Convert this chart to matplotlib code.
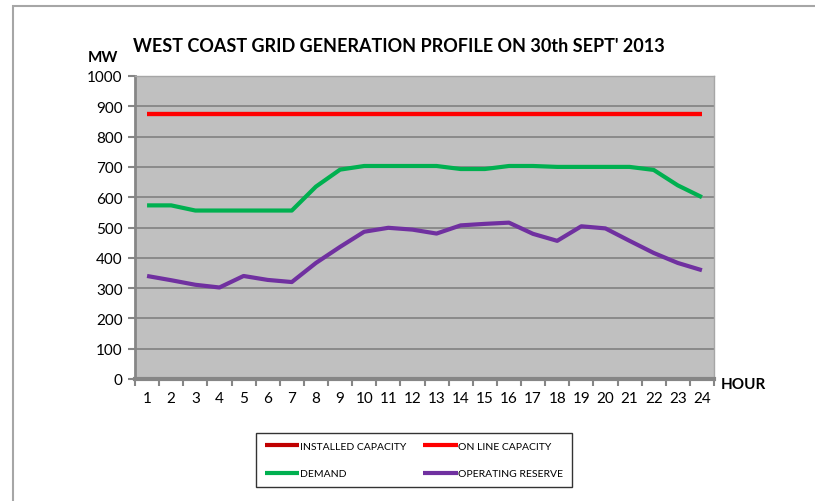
import matplotlib
matplotlib.use('Agg')
from matplotlib import pyplot as plt
from matplotlib.patches import Rectangle
import numpy as np

plt.rcParams['font.family'] = ['Lato', 'DejaVu Sans']

hours = list(range(1, 25))
installed = [875] * 24
online = [875] * 24
demand = [573, 573, 556, 556, 556, 556, 556, 635, 691, 703, 703, 703,
          703, 693, 693, 703, 703, 700, 700, 700, 700, 690, 639, 600]
reserve = [340, 326, 311, 302, 340, 327, 320, 383, 436, 486, 499, 493,
           480, 507, 512, 516, 479, 456, 504, 497, 456, 416, 383, 359]

fig = plt.figure(figsize=(8.15, 5.02), dpi=100)
ax = fig.add_axes([135/815, 1-380/502, (714-135)/815, (380-77)/502])
ax.set_facecolor('#C0C0C0')

lw = 3.0
l1, = ax.plot(hours, installed, color='#C00000', lw=lw, label='INSTALLED CAPACITY', solid_capstyle='butt')
l2, = ax.plot(hours, online, color='#FF0000', lw=lw, label='ON LINE CAPACITY', solid_capstyle='butt')
l3, = ax.plot(hours, demand, color='#00B050', lw=lw, label='DEMAND', solid_capstyle='butt')
l4, = ax.plot(hours, reserve, color='#7030A0', lw=lw, label='OPERATING RESERVE', solid_capstyle='butt')

ax.set_xlim(0.5, 24.5)
ax.set_ylim(0, 1000)
ax.set_yticks(range(0, 1001, 100))
ax.set_xticks(hours)
ax.set_xticks(np.arange(0.5, 25, 1), minor=True)
ax.tick_params(axis='x', which='major', length=0, pad=9, labelsize=11)
ax.tick_params(axis='x', which='minor', length=5, width=1.5, color='#868686', direction='out')
ax.tick_params(axis='y', length=5, width=1.5, color='#868686', labelsize=11, pad=4)
ax.grid(axis='y', color='#868686', lw=1.3)
ax.set_axisbelow(True)

for s in ['top', 'right']:
    ax.spines[s].set_color('#A6A6A6')
    ax.spines[s].set_linewidth(1.0)
ax.spines['left'].set_color('#868686')
ax.spines['left'].set_linewidth(2.0)
ax.spines['bottom'].set_color('#868686')
ax.spines['bottom'].set_linewidth(3.0)

fig.text(399/815, 1-47/502, "WEST COAST GRID GENERATION PROFILE ON 30th SEPT' 2013",
         ha='center', va='center', fontsize=13, fontweight='bold')
fig.text(103/815, 1-58/502, 'MW', ha='center', va='center', fontsize=11, fontweight='bold')
fig.text(721/815, 1-385/502, 'HOUR', ha='left', va='center', fontsize=11, fontweight='bold')

# row-major order like the original legend
handles = [l1, l3, l2, l4]
leg = fig.legend(handles, [h.get_label() for h in handles],
                 loc='center', bbox_to_anchor=(414/815, 1-461/502), ncol=2,
                 frameon=True, fancybox=False, fontsize=7.5, handlelength=3.3,
                 handletextpad=0.05, columnspacing=1.7, labelspacing=1.75,
                 borderpad=0.85, borderaxespad=0, edgecolor='black')
leg.get_frame().set_linewidth(1.0)

fig.patches.append(Rectangle((13/815, -0.1), 2, 1-7/502+0.1, transform=fig.transFigure,
                             fill=False, edgecolor='#A6A6A6', lw=1.5))

fig.savefig('out.png', dpi=100)
